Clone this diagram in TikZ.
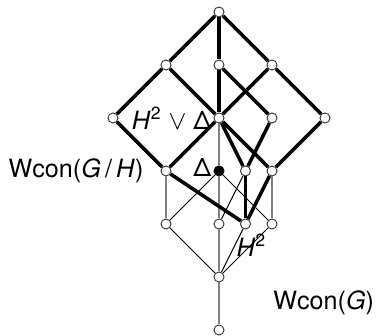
\documentclass[tikz,border=0pt]{standalone}
\usepackage{fontspec}
\setmainfont{TeX Gyre Heros}
\usetikzlibrary{positioning}
\begin{document}
\begin{tikzpicture}[x=0.5cm, y=1cm,
    elt/.style={circle, draw=black!80, fill=white, line width=0.5pt, inner sep=0pt, minimum size=0.19cm},
    fullelt/.style={elt, fill=black, draw=black},
    cover/.style={line width=1.9pt, black},
    greyline/.style={line width=0.9pt, black!50},
    thinline/.style={line width=0.5pt, black},
    lbl/.style={font=\fontsize{13.5}{16}\selectfont, inner sep=1pt}]
    \useasboundingbox (-8.264,0.226) rectangle (6.415,-6.113);

    % the elements, top to bottom
    \node[elt] (t) at (0,0) {};
    \node[elt] (a1) at (-2,-1) {};
    \node[elt] (a2) at (0,-1) {};
    \node[elt] (a3) at (2,-1) {};
    \node[elt] (b1) at (-4,-2) {};
    \node[elt] (b2) at (0,-2) {};
    \node[elt] (b3) at (2,-2) {};
    \node[elt] (b4) at (4,-2) {};
    \node[elt] (c1) at (-2,-3) {};
    \node[fullelt] (c2) at (0,-3) {};
    \node[elt] (c3) at (1,-3) {};
    \node[elt] (c4) at (2,-3) {};
    \node[elt] (d1) at (-2,-4) {};
    \node[elt] (d2) at (0,-4) {};
    \node[elt] (d3) at (1,-4) {};
    \node[elt] (d4) at (2,-4) {};
    \node[elt] (e) at (0,-5) {};
    \node[elt] (z) at (0,-6) {};

    % Wcon(G)
    \draw[greyline] (b2) -- (c2) -- (d2) -- (e) -- (z);
    \draw[greyline] (c1) -- (d1);
    \draw[greyline] (c4) -- (d4);
    \draw[thinline] (c2) -- (d1);
    \draw[thinline] (c2) -- (d4);
    \draw[thinline] (c3) -- (d2);
    \draw[thinline] (d1) -- (e);
    \draw[thinline] (d3) -- (e);
    \draw[thinline] (d4) -- (e);

    % Wcon(G/H)
    \draw[cover] (t) -- (a1);
    \draw[cover] (t) -- (a2);
    \draw[cover] (t) -- (a3);
    \draw[cover] (a1) -- (b1);
    \draw[cover] (a1) -- (b2);
    \draw[cover] (a2) -- (b2);
    \draw[cover] (a2) -- (b3);
    \draw[cover] (a3) -- (b2);
    \draw[cover] (a3) -- (b4);
    \draw[cover] (b1) -- (c1);
    \draw[cover] (b2) -- (c1);
    \draw[cover] (b2) -- (c3);
    \draw[cover] (b2) -- (c4);
    \draw[cover] (b3) -- (c3);
    \draw[cover] (b4) -- (c4);
    \draw[cover] (c1) -- (d3);
    \draw[cover] (c3) -- (d3);
    \draw[cover] (c4) -- (d3);

    \node[lbl, left=0pt of b2] (join) {\textit{H}\textsuperscript{2} $\vee$ Δ};
    \node[lbl, left=0.28cm of c1] (quot) {Wcon(\textit{G}\,/\,\textit{H})};
    \node[lbl, left=0pt of c2, yshift=0.07cm] (delta) {Δ};
    \node[lbl, below=0.05cm of d3, xshift=0.11cm] (hsq) {\textit{H}\textsuperscript{2}};
    \node[lbl, right=0.88cm of e, yshift=-0.49cm] (whole) {Wcon(\textit{G})};
\end{tikzpicture}
\end{document}
